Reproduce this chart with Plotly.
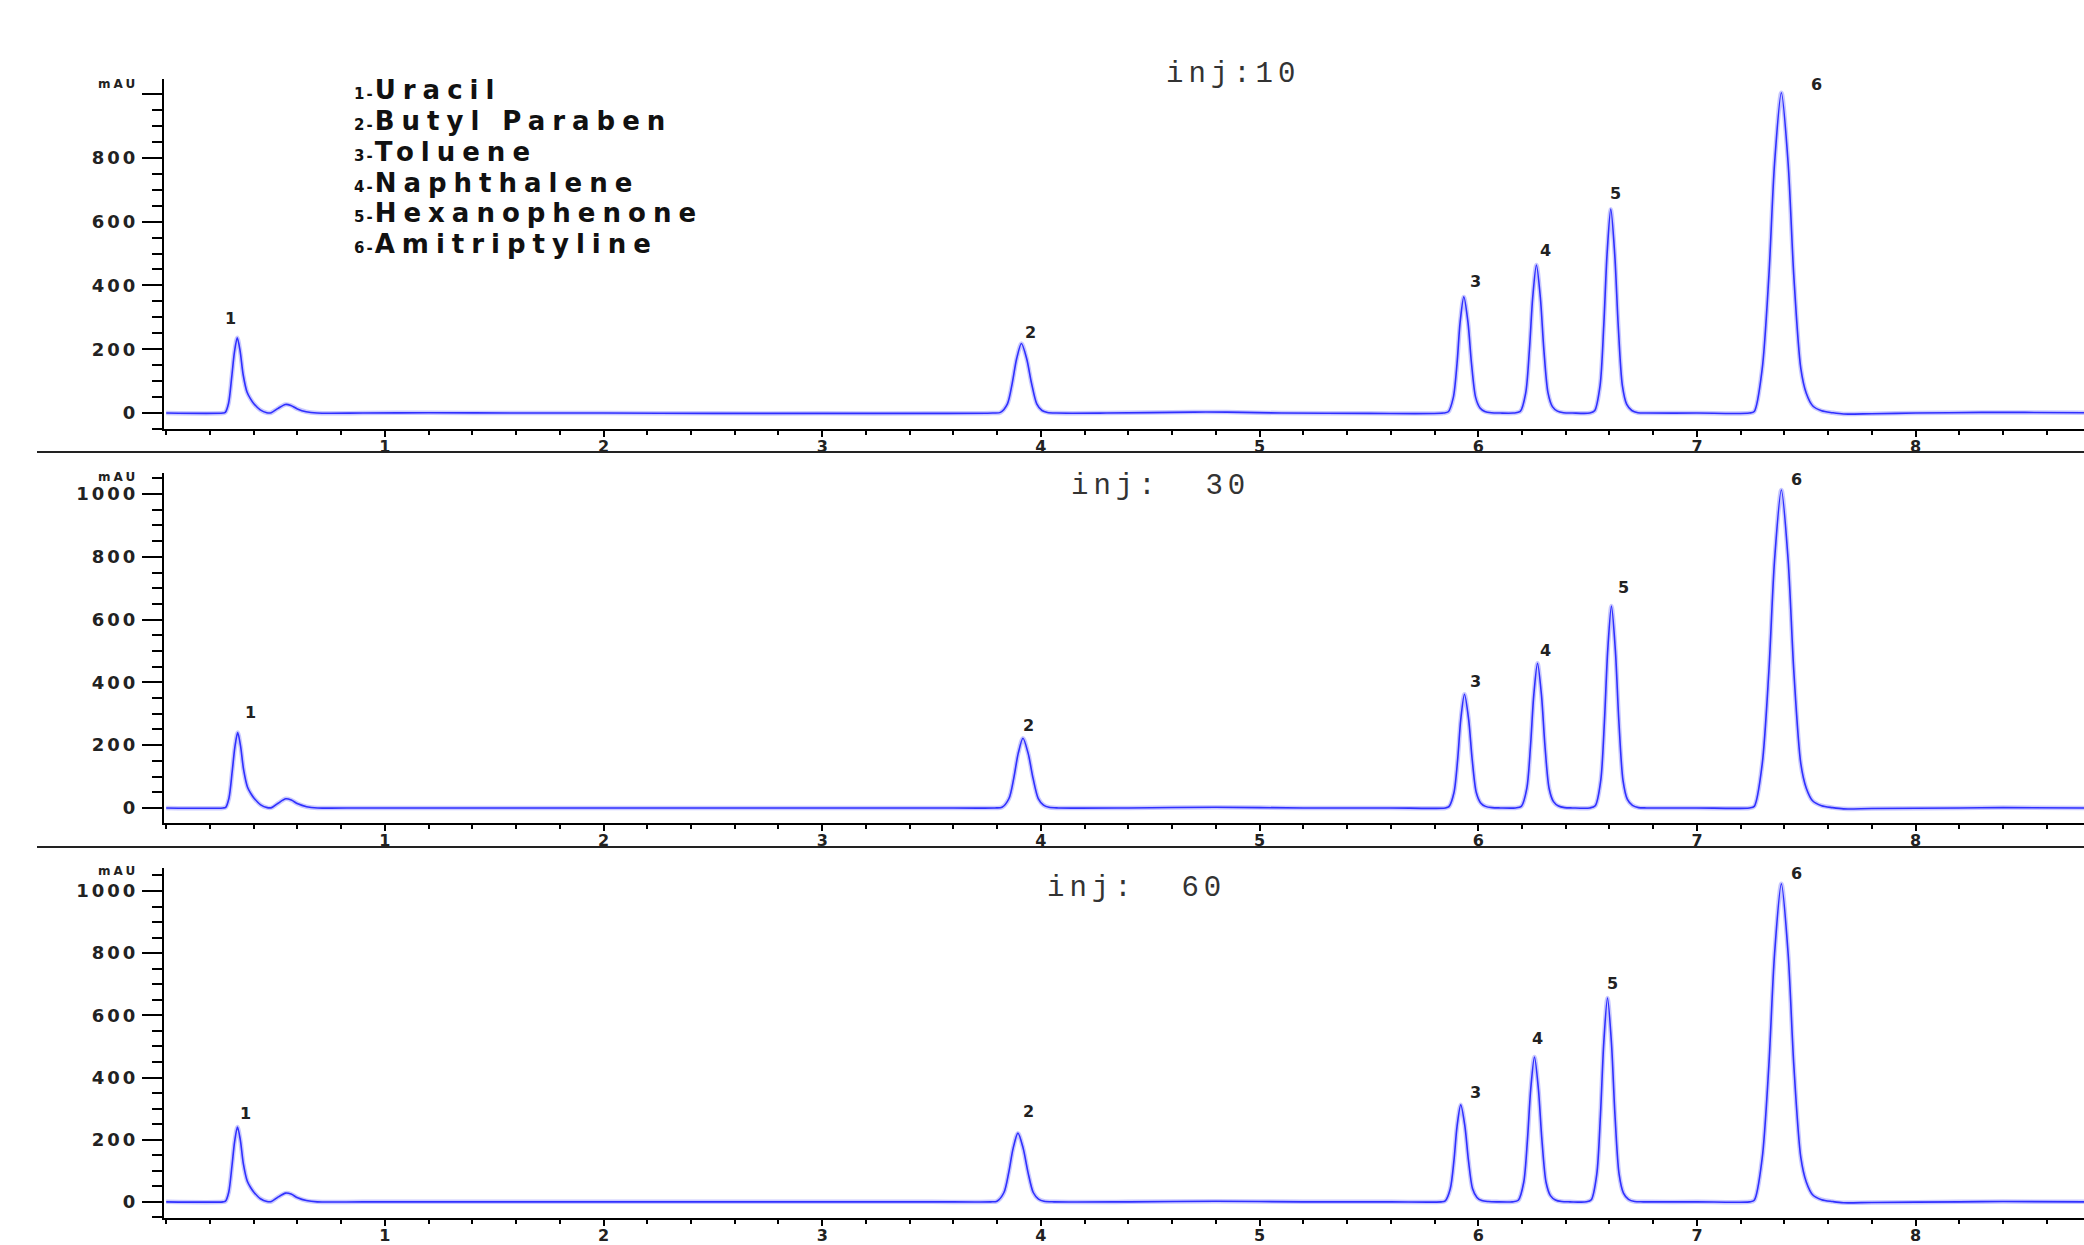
import plotly.graph_objects as go

# ---------------- data ----------------
# retention time (min) and absorbance (mAU), injection 10
inj10_t = [0, 0.26, 0.27, 0.285, 0.30, 0.312, 0.325, 0.338, 0.352, 0.37, 0.385, 0.40, 0.43, 0.46, 0.48,
           0.51, 0.545, 0.57, 0.60, 0.64, 0.69, 0.9, 1.2, 1.6, 2.0, 2.5, 3.0, 3.5, 3.78,
           3.815, 3.847, 3.869, 3.889, 3.911, 3.935, 3.957, 3.981, 4.005, 4.03, 4.07,
           4.3, 4.7, 4.85, 5.1, 5.5, 5.84,
           5.863, 5.886, 5.903, 5.917, 5.934, 5.953, 5.969, 5.988, 6.008, 6.03, 6.06, 6.10,
           6.16, 6.192, 6.217, 6.234, 6.249, 6.266, 6.284, 6.300, 6.319, 6.339, 6.362, 6.39, 6.43,
           6.51, 6.532, 6.557, 6.574, 6.589, 6.606, 6.624, 6.640, 6.659, 6.679, 6.702, 6.73, 6.77,
           7.0, 7.24, 7.262, 7.298, 7.329, 7.355, 7.386, 7.417, 7.443, 7.475, 7.50, 7.53, 7.57, 7.62, 7.67,
           7.8, 8.0, 8.3, 8.5, 8.77]
inj10_mau = [0, 0, 2, 30, 115, 190, 236, 195, 120, 65, 45, 30, 10, 1, 1,
             14, 27, 24, 13, 4, 0, 0, 1, 0, 0, -1, -1, -1, 0,
             2, 29, 94, 170, 218, 170, 94, 29, 8, 2, 0,
             0, 3, 3, 0, -1, 0,
             4, 49, 156, 284, 364, 284, 156, 49, 16, 5, 1, 0,
             0, 5, 63, 199, 362, 464, 362, 199, 63, 20, 6, 1, 0,
             0, 7, 86, 275, 498, 639, 498, 275, 86, 27, 8, 1, 0,
             0, 0, 5, 136, 430, 783, 1004, 783, 430, 140, 62, 22, 7, 1, -3,
             -2, 0, 2, 2, 1]

# injection 30
inj30_t = [0, 0.26, 0.272, 0.287, 0.302, 0.314, 0.327, 0.340, 0.354, 0.372, 0.387, 0.402, 0.432, 0.462, 0.482,
           0.512, 0.547, 0.572, 0.602, 0.642, 0.692, 0.9, 1.5, 2.2, 3.0, 3.5, 3.79,
           3.822, 3.854, 3.876, 3.896, 3.918, 3.942, 3.964, 3.988, 4.012, 4.037, 4.08,
           4.4, 4.8, 5.2, 5.6, 5.85,
           5.866, 5.889, 5.906, 5.920, 5.937, 5.956, 5.972, 5.991, 6.011, 6.033, 6.063, 6.10,
           6.17, 6.197, 6.222, 6.239, 6.254, 6.271, 6.289, 6.305, 6.324, 6.344, 6.367, 6.395, 6.43,
           6.51, 6.535, 6.560, 6.577, 6.592, 6.609, 6.627, 6.643, 6.662, 6.682, 6.705, 6.733, 6.77,
           7.0, 7.24, 7.262, 7.298, 7.329, 7.355, 7.386, 7.417, 7.443, 7.475, 7.50, 7.53, 7.57, 7.62, 7.67,
           7.8, 8.2, 8.4, 8.77]
inj30_mau = [0, 0, 2, 31, 117, 193, 240, 198, 122, 66, 46, 31, 10, 1, 1,
             15, 29, 25, 13, 4, 0, 0, 0, 0, 0, 0, 0,
             2, 30, 95, 173, 222, 173, 95, 30, 9, 2, 0,
             0, 2, 0, 0, 0,
             4, 49, 156, 282, 362, 282, 156, 49, 16, 5, 1, 0,
             0, 5, 62, 198, 360, 461, 360, 198, 62, 20, 6, 1, 0,
             0, 7, 87, 276, 502, 643, 502, 276, 87, 27, 8, 1, 0,
             0, 0, 5, 137, 436, 790, 1013, 790, 436, 141, 63, 22, 7, 1, -3,
             -2, 0, 1, 0]

# injection 60
inj60_t = [0, 0.26, 0.271, 0.286, 0.301, 0.313, 0.326, 0.339, 0.353, 0.371, 0.386, 0.401, 0.431, 0.461, 0.481,
           0.511, 0.546, 0.571, 0.601, 0.641, 0.691, 0.9, 1.5, 2.2, 3.0, 3.5, 3.77,
           3.799, 3.831, 3.853, 3.873, 3.895, 3.919, 3.941, 3.965, 3.989, 4.014, 4.06,
           4.4, 4.8, 5.2, 5.6, 5.83,
           5.849, 5.872, 5.889, 5.903, 5.920, 5.939, 5.955, 5.974, 5.994, 6.016, 6.046, 6.085,
           6.155, 6.183, 6.208, 6.225, 6.240, 6.257, 6.275, 6.291, 6.310, 6.330, 6.353, 6.381, 6.42,
           6.495, 6.517, 6.542, 6.559, 6.574, 6.591, 6.609, 6.625, 6.644, 6.664, 6.687, 6.715, 6.755,
           7.0, 7.24, 7.262, 7.298, 7.329, 7.355, 7.386, 7.417, 7.443, 7.475, 7.50, 7.53, 7.57, 7.62, 7.67,
           7.8, 8.2, 8.4, 8.77]
inj60_mau = [0, 0, 2, 31, 117, 194, 241, 199, 122, 66, 46, 31, 10, 1, 1,
             15, 28, 25, 13, 4, 0, 0, 0, 0, 0, 0, 0,
             2, 30, 95, 172, 221, 172, 95, 30, 9, 2, 0,
             0, 2, 0, 0, 0,
             3, 42, 134, 243, 312, 243, 134, 42, 14, 4, 1, 0,
             0, 5, 63, 200, 363, 466, 363, 200, 63, 20, 6, 1, 0,
             0, 7, 89, 282, 512, 656, 512, 282, 89, 28, 8, 1, 0,
             0, 0, 5, 138, 440, 798, 1023, 798, 440, 143, 64, 22, 7, 1, -3,
             -2, 0, 1, 0]

# peak number labels (position of each label)
peak_ids = ["1", "2", "3", "4", "5", "6"]
inj10_lbl_t = [0.295, 3.953, 5.986, 6.309, 6.629, 7.549]
inj10_lbl_v = [297, 254, 412, 511, 687, 1029]
inj30_lbl_t = [0.384, 3.941, 5.986, 6.309, 6.666, 7.457]
inj30_lbl_v = [303, 264, 403, 503, 701, 1045]
inj60_lbl_t = [0.361, 3.941, 5.986, 6.271, 6.614, 7.457]
inj60_lbl_v = [284, 290, 353, 525, 702, 1056]

compounds = ["Uracil", "Butyl Paraben", "Toluene", "Naphthalene", "Hexanophenone", "Amitriptyline"]
inj_labels = ["inj:10", "inj:\u00a0\u00a030", "inj:\u00a0\u00a060"]
y_tick_vals = [0, 200, 400, 600, 800, 1000]
x_tick_vals = [1, 2, 3, 4, 5, 6, 7, 8]

# ---------------- figure ----------------
W, H = 2084, 1245
CORE = "#2f2fff"
HALO = "rgba(90,90,255,0.33)"
TXT = "#222222"

panels = [
    (inj10_t, inj10_mau, inj10_lbl_t, inj10_lbl_v),
    (inj30_t, inj30_mau, inj30_lbl_t, inj30_lbl_v),
    (inj60_t, inj60_mau, inj60_lbl_t, inj60_lbl_v),
]
y_domains = [[1 - 429 / H, 1 - 79 / H], [1 - 823 / H, 1 - 473 / H], [1 - 1218 / H, 1 - 868 / H]]
y_ranges = [[-50, 1047], [-48, 1067], [-52, 1074]]
inj_pos = [(1233, 75), (1160, 486), (1136, 888)]
mau_pos = [84, 477, 871]

fig = go.Figure()
annotations = []
layout = {}
for i, (t, v, lt, lv) in enumerate(panels):
    sfx = "" if i == 0 else str(i + 1)
    for col, wid in [(HALO, 4.5), (CORE, 1.6)]:
        fig.add_trace(go.Scatter(
            x=t, y=v, mode="lines",
            line=dict(color=col, width=wid, shape="spline", smoothing=0.8),
            xaxis="x" + sfx, yaxis="y" + sfx, hoverinfo="skip", showlegend=False,
        ))
    layout["xaxis" + sfx] = dict(
        domain=[164 / W, 1], range=[-0.01, 8.77], anchor="y" + sfx,
        showline=True, linecolor="black", linewidth=2, mirror=False,
        showgrid=False, zeroline=False,
        ticks="outside", ticklen=6, tickwidth=2, tickcolor="black",
        tickmode="array", tickvals=x_tick_vals, ticklabelstandoff=-4,
        tickfont=dict(family="DejaVu Sans", size=16, color=TXT, weight="bold"),
        minor=dict(tickmode="linear", tick0=0, dtick=0.2, ticks="outside",
                   ticklen=4, tickwidth=2, tickcolor="black", showgrid=False),
    )
    ticktext = [f"<span style='letter-spacing:3px'>{k}</span>" for k in y_tick_vals]
    if i == 0:
        ticktext[-1] = ""
    layout["yaxis" + sfx] = dict(
        domain=y_domains[i], range=y_ranges[i], anchor="x" + sfx,
        showline=True, linecolor="black", linewidth=2,
        showgrid=False, zeroline=False,
        ticks="outside", ticklen=20, tickwidth=2, tickcolor="black",
        tickmode="array", tickvals=y_tick_vals, ticktext=ticktext,
        tickfont=dict(family="DejaVu Sans", size=18, color=TXT, weight="bold"),
        minor=dict(tickmode="linear", tick0=0, dtick=50, ticks="outside",
                   ticklen=10, tickwidth=1.5, tickcolor="black", showgrid=False),
    )
    for pid, x_, y_ in zip(peak_ids, lt, lv):
        annotations.append(dict(
            x=x_, y=y_, xref="x" + sfx, yref="y" + sfx, text=pid, showarrow=False,
            font=dict(family="DejaVu Sans", size=16, color=TXT, weight="bold"),
        ))
    ix, iy = inj_pos[i]
    annotations.append(dict(
        x=ix / W, y=1 - iy / H, xref="paper", yref="paper",
        text=f"<span style='letter-spacing:5px'>{inj_labels[i]}</span>",
        showarrow=False, xanchor="center", yanchor="middle",
        font=dict(family="Liberation Mono", size=29, color="#333333"),
    ))
    annotations.append(dict(
        x=140 / W, y=1 - mau_pos[i] / H, xref="paper", yref="paper",
        text="<span style='letter-spacing:3px'>mAU</span>",
        showarrow=False, xanchor="right", yanchor="middle",
        font=dict(family="DejaVu Sans", size=12, color=TXT, weight="bold"),
    ))

# compound list: one text per line, line pitch ~31 px
legend_y = [90, 121, 152, 183, 213, 244]
for k, (name, ly) in enumerate(zip(compounds, legend_y)):
    annotations.append(dict(
        x=352 / W, y=1 - ly / H, xref="paper", yref="paper",
        text=f"<span style='font-size:15px;letter-spacing:2px'>{k + 1}-</span>"
             f"<span style='letter-spacing:7px'>{name}</span>",
        showarrow=False, xanchor="left", yanchor="middle",
        font=dict(family="DejaVu Sans", size=26, color="#111111", weight="bold"),
    ))

shapes = []
for sy in [452, 847]:
    shapes.append(dict(type="line", xref="paper", yref="paper",
                       x0=37 / W, x1=1, y0=1 - sy / H, y1=1 - sy / H,
                       line=dict(color="#222222", width=2)))

fig.update_layout(
    width=W, height=H,
    margin=dict(l=0, r=0, t=0, b=0),
    paper_bgcolor="white", plot_bgcolor="white",
    font=dict(family="DejaVu Sans", color=TXT),
    annotations=annotations, shapes=shapes,
    showlegend=False,
    **layout,
)

fig.write_html("out.html", config={"displayModeBar": False},
               post_script="document.body.style.margin='0';document.body.style.overflow='hidden';")
